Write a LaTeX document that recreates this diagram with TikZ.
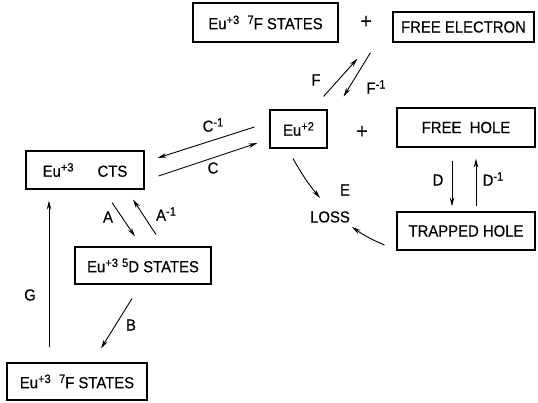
\documentclass[tikz,border=0pt]{standalone}
\usepackage{fontspec}
\setmainfont{Liberation Sans}[FakeStretch=0.93,FakeBold=0.4]
\usetikzlibrary{arrows.meta,positioning}
\newcommand{\lettering}{\fontsize{16}{18}\selectfont}
\newcommand{\sups}[1]{\raisebox{0.62ex}{\fontsize{12}{13}\selectfont #1}}
\tikzset{
  statebox/.style={draw, line width=1.1pt, minimum width=#1,
                   minimum height=38pt, inner sep=2pt, font=\lettering},
  statebox/.default=140pt,
  lbl/.style     ={font=\lettering, inner sep=1pt},
  plussign/.style={font=\fontsize{21}{22}\selectfont, inner sep=1pt},
  arr/.style     ={-{Stealth[length=9pt,width=4.5pt]}, line width=0.9pt},
}
\begin{document}
\begin{tikzpicture}[x=1pt,y=1pt]
  \useasboundingbox (0,0) rectangle (538,402);
  %% top row
  \node[statebox=145pt, minimum height=39pt] (fsevtop) at (265.5,379.5)
       {Eu\sups{+3}\ \ \sups{7}F STATES};
  \node[plussign] (plusa) at (366,380) {+};
  \node[statebox=141pt, minimum height=30pt] (freeel) at (463.5,375) {FREE ELECTRON};
  %% middle row
  \node[statebox=57pt] (eutwo) at (298.5,273) {Eu\sups{+2}};
  \node[plussign] (plusb) at (362,270) {+};
  \node[statebox=138pt, minimum height=39pt] (freehole) at (466,274.5) {FREE\ \ HOLE};
  \node[statebox=138pt] (trapped) at (466,171) {TRAPPED HOLE};
  \node[lbl] (loss) at (330,185) {LOSS};
  %% left column
  \node[statebox=118pt] (cts) at (85,232) {Eu\sups{+3}\hspace{24pt}CTS};
  \node[statebox=136pt, minimum height=37pt] (fived) at (143,136.5)
       {Eu\sups{+3} \sups{5}D STATES};
  \node[statebox=140pt, minimum height=37pt] (botsev) at (77,20.5)
       {Eu\sups{+3}\ \ \sups{7}F STATES};

  %% transitions
  \draw[arr]([shift={(-4,13)}]eutwo.north east)--([shift={(19,-16)}]fsevtop.south east);
  \draw[arr]([shift={(32,-10)}]fsevtop.south east)--([shift={(16,13)}]eutwo.north east);
  \draw[arr]([shift={(-15,2)}]eutwo.west)--([shift={(13,12)}]cts.east);
  \draw[arr]([shift={(14,-6)}]cts.east)--([shift={(-12,-14)}]eutwo.west);
  \draw[arr]([shift={(27,-13)}]cts.south)--([shift={(-8,10)}]fived.north);
  \draw[arr]([shift={(13,12)}]fived.north)--([shift={(48,-10)}]cts.south);
  \draw[arr]([shift={(-11,-14)}]fived.south)--([shift={(24,14)}]botsev.north);
  \draw[arr]([shift={(-28,15)}]botsev.north)--([shift={(-36,-11)}]cts.south);
  \draw[arr]([shift={(-14,-13)}]freehole.south)--([shift={(-14,5)}]trapped.north);
  \draw[arr]([shift={(10,5)}]trapped.north)--([shift={(10,-11)}]freehole.south);
  \draw[arr]([shift={(-5.5,-10)}]eutwo.south) to[bend right=5] ([shift={(-10,19)}]loss.center);
  \draw[arr]([shift={(-12,-14)}]trapped.west) to[bend left=6] ([shift={(22,-10)}]loss.center);

  %% rate labels
  \node[lbl] (labF)  at (316,322) {F};
  \node[lbl] (labFi) at (376,315) {F\sups{-1}};
  \node[lbl] (labCi) at (213,277) {C\sups{-1}};
  \node[lbl] (labC)  at (213,234) {C};
  \node[lbl] (labA)  at (108,185) {A};
  \node[lbl] (labAi) at (166,188) {A\sups{-1}};
  \node[lbl] (labG)  at (30,107)  {G};
  \node[lbl] (labB)  at (131,77)  {B};
  \node[lbl] (labD)  at (438,222) {D};
  \node[lbl] (labDi) at (493,223) {D\sups{-1}};
  \node[lbl] (labE)  at (345,212) {E};
\end{tikzpicture}
\end{document}
